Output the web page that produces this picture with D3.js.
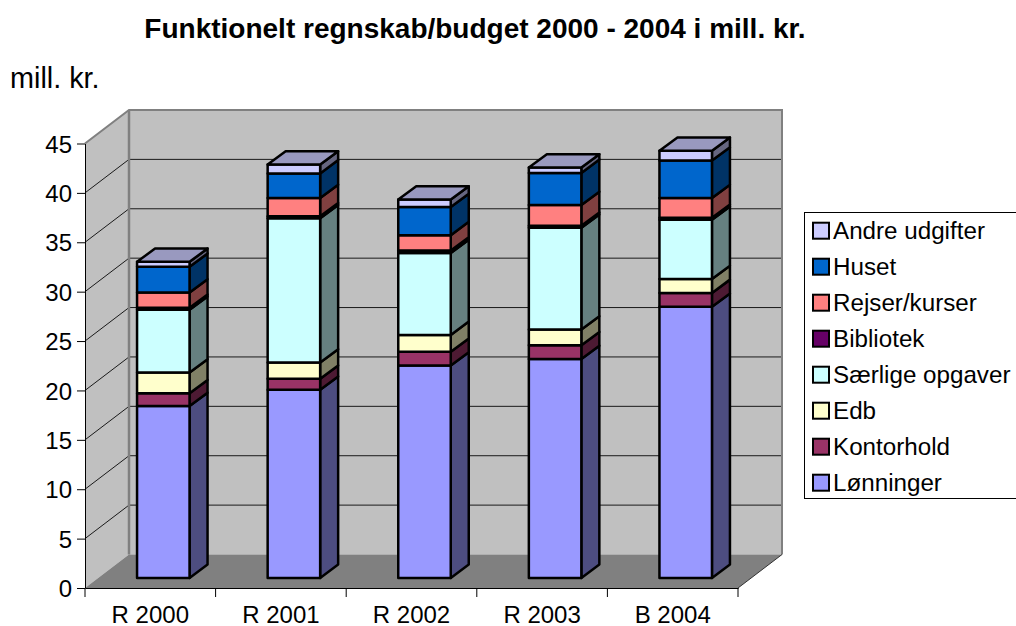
<!DOCTYPE html>
<html>
<head>
<meta charset="utf-8">
<script src="https://cdn.jsdelivr.net/npm/d3@7"></script>
<style>
body { margin: 0; background: #fff; }
svg { display: block; }
text { font-family: "Liberation Sans", Arial, sans-serif; fill: #000; }
</style>
</head>
<body>
<script>
//Data, bottom of the stack first
var categories = ["R 2000", "R 2001", "R 2002", "R 2003", "B 2004"];
var seriesNames = ["Lønninger", "Kontorhold", "Edb", "Særlige opgaver", "Bibliotek", "Rejser/kurser", "Huset", "Andre udgifter"];
var lonninger = [17.4, 19.05, 21.5, 22.15, 27.45];
var kontorhold = [1.3, 1.1, 1.4, 1.4, 1.4];
var edb = [2.1, 1.65, 1.7, 1.6, 1.4];
var saerlige = [6.35, 14.6, 8.3, 10.3, 6.0];
var bibliotek = [0.2, 0.2, 0.25, 0.2, 0.2];
var rejser = [1.55, 1.85, 1.55, 2.1, 2.0];
var huset = [2.6, 2.5, 2.85, 3.25, 3.8];
var andre = [0.5, 0.9, 0.75, 0.55, 1.0];
var seriesValues = [lonninger, kontorhold, edb, saerlige, bibliotek, rejser, huset, andre];
var seriesColors = ["#9999ff", "#993366", "#ffffcc", "#ccffff", "#660066", "#ff8080", "#0066cc", "#ccccff"];
var yTicks = [0, 5, 10, 15, 20, 25, 30, 35, 40, 45];

var w = 1016;
var h = 626;

//Fake 3D depth of the plot box and of the bars
var depthX = 44, depthY = 33.5;
var barDepthX = 18, barDepthY = 13.3;
var barW = 52.5;

var svg = d3.select("body").append("svg")
    .attr("width", w)
    .attr("height", h);

//Scales
var xScale = d3.scaleBand().domain(categories).range([85, 738]);
var yScale = d3.scaleLinear().domain([0, 45]).range([588, 143.5]);
var bandW = xScale.bandwidth();

//Stack the series
var rows = categories.map(function(c, i) {
    var row = { category: c };
    seriesNames.forEach(function(s, j) { row[s] = seriesValues[j][i]; });
    return row;
});
var stacked = d3.stack().keys(seriesNames)(rows);

function pts(a) {
    return a.map(function(p) { return p[0] + "," + p[1]; }).join(" ");
}

var x0 = xScale.range()[0], x1 = xScale.range()[1];
var yB = yScale(0), yT = yScale(45);

// Walls and floor
svg.append("polygon")
    .attr("points", pts([[x0, yB], [x0 + depthX, yB - depthY], [x0 + depthX, yT - depthY], [x0, yT]]))
    .attr("fill", "#c0c0c0");
svg.append("rect")
    .attr("x", x0 + depthX).attr("y", yT - depthY)
    .attr("width", x1 - x0).attr("height", yB - yT)
    .attr("fill", "#c0c0c0");
svg.append("polygon")
    .attr("points", pts([[x0, yB], [x1, yB], [x1 + depthX, yB - depthY], [x0 + depthX, yB - depthY]]))
    .attr("fill", "#808080");

// Gridlines
yTicks.filter(function(t) { return t > 0 && t < 45; }).forEach(function(t) {
    var y = yScale(t);
    svg.append("polyline")
        .attr("points", pts([[x0, y], [x0 + depthX, y - depthY], [x1 + depthX, y - depthY]]))
        .attr("fill", "none")
        .attr("stroke", "#1a1a1a")
        .attr("stroke-width", 1);
});

// Wall borders
svg.append("polyline")
    .attr("points", pts([[x0, yT], [x0 + depthX, yT - depthY], [x1 + depthX, yT - depthY], [x1 + depthX, yB - depthY]]))
    .attr("fill", "none").attr("stroke", "#808080").attr("stroke-width", 2);
svg.append("line")
    .attr("x1", x0 + depthX).attr("y1", yT - depthY)
    .attr("x2", x0 + depthX).attr("y2", yB - depthY)
    .attr("stroke", "#808080").attr("stroke-width", 2.5);
svg.append("line")
    .attr("x1", x1).attr("y1", yB)
    .attr("x2", x1 + depthX).attr("y2", yB - depthY)
    .attr("stroke", "#333").attr("stroke-width", 1);

// Bars, left to right, each one from the bottom up
var offX = (depthX - barDepthX) / 2, offY = (depthY - barDepthY) / 2;
var bars = svg.append("g")
    .attr("stroke", "#000")
    .attr("stroke-width", 2.5)
    .attr("stroke-linejoin", "round");

categories.forEach(function(c, i) {
    var left = xScale(c) + (bandW - barW) / 2 + offX;
    var right = left + barW;
    stacked.forEach(function(layer, j) {
        var color = d3.color(seriesColors[j]);
        var yBot = yScale(layer[i][0]) - offY;
        var yTop = yScale(layer[i][1]) - offY;
        bars.append("polygon")
            .attr("points", pts([[right, yBot], [right + barDepthX, yBot - barDepthY], [right + barDepthX, yTop - barDepthY], [right, yTop]]))
            .attr("fill", d3.rgb(color.r * 0.5, color.g * 0.5, color.b * 0.5));
        bars.append("rect")
            .attr("x", left).attr("y", yTop)
            .attr("width", barW).attr("height", yBot - yTop)
            .attr("fill", seriesColors[j]);
        if (j === stacked.length - 1) {
            bars.append("polygon")
                .attr("points", pts([[left, yTop], [left + barDepthX, yTop - barDepthY], [right + barDepthX, yTop - barDepthY], [right, yTop]]))
                .attr("fill", d3.rgb(color.r * 0.75, color.g * 0.75, color.b * 0.75));
        }
    });
});

// Axes
var yAxis = d3.axisLeft(yScale).tickValues(yTicks).tickSize(8).tickSizeOuter(0).tickPadding(5);
var gy = svg.append("g")
    .attr("transform", "translate(" + x0 + ",0)")
    .call(yAxis);
gy.selectAll("text").style("font-size", "24px").attr("dy", "0.36em");

var xAxis = d3.axisBottom(xScale).tickSize(0).tickSizeOuter(0).tickPadding(18);
var gx = svg.append("g")
    .attr("transform", "translate(0," + yB + ")")
    .call(xAxis);
gx.selectAll("text").style("font-size", "24px").attr("dy", "0.71em");

// tick marks between the categories
svg.selectAll(".xtick")
    .data(categories.concat([null]))
    .enter()
    .append("line")
    .attr("class", "xtick")
    .attr("x1", function(d) { return d === null ? x1 : xScale(d); })
    .attr("x2", function(d) { return d === null ? x1 : xScale(d); })
    .attr("y1", yB)
    .attr("y2", yB + 9)
    .attr("stroke", "#000");

// Title and unit label
svg.append("text")
    .attr("x", 475).attr("y", 37.5)
    .attr("text-anchor", "middle")
    .style("font-size", "28px")
    .style("font-weight", "bold")
    .text("Funktionelt regnskab/budget 2000 - 2004 i mill. kr.");

svg.append("text")
    .attr("x", 10).attr("y", 87.5)
    .style("font-size", "28.8px")
    .text("mill. kr.");

// Legend, top entry is the top of the stack
var legend = svg.append("g");
legend.append("rect")
    .attr("x", 804.5).attr("y", 212.5)
    .attr("width", 240).attr("height", 286)
    .attr("fill", "#fff")
    .attr("stroke", "#000");

var legendY = d3.scalePoint()
    .domain(seriesNames.slice().reverse())
    .range([230.7, 482.7]);

var entry = legend.selectAll(".entry")
    .data(seriesNames)
    .enter()
    .append("g")
    .attr("class", "entry")
    .attr("transform", function(d) { return "translate(813," + legendY(d) + ")"; });

entry.append("rect")
    .attr("x", 0).attr("y", -8)
    .attr("width", 16).attr("height", 16)
    .attr("fill", function(d, i) { return seriesColors[i]; })
    .attr("stroke", "#000")
    .attr("stroke-width", 2);

entry.append("text")
    .attr("x", 20).attr("y", 8.5)
    .style("font-size", "24.2px")
    .text(function(d) { return d; });
</script>
</body>
</html>
